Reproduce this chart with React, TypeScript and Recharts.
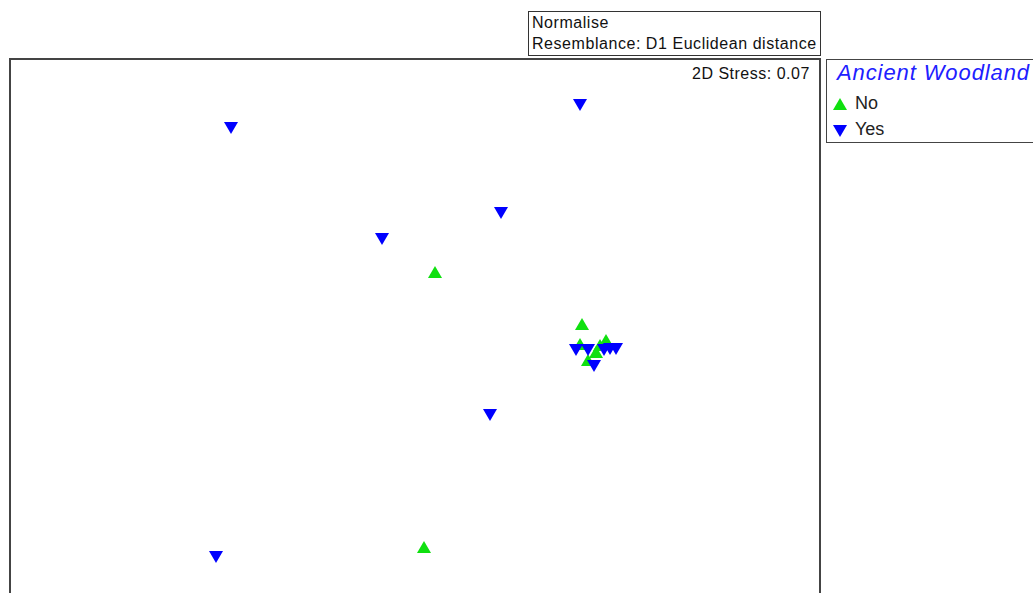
import React from "react";
import { ScatterChart, Scatter, XAxis, YAxis, ReferenceArea, Legend } from "recharts";

// MDS coordinates
const noSites = [
  { x: 0.1, y: 0.29 },
  { x: 0.835, y: 0.03 },
  { x: 0.045, y: -1.085 },
  { x: 0.825, y: -0.07 },
  { x: 0.955, y: -0.05 },
  { x: 0.905, y: -0.11 },
  { x: 0.865, y: -0.15 },
  { x: 0.925, y: -0.075 },
];

const yesSites = [
  { x: -0.92, y: 1.01 },
  { x: 0.825, y: 1.125 },
  { x: 0.43, y: 0.585 },
  { x: -0.165, y: 0.455 },
  { x: 0.375, y: -0.425 },
  { x: -0.995, y: -1.135 },
  { x: 0.805, y: -0.1 },
  { x: 0.865, y: -0.1 },
  { x: 0.975, y: -0.095 },
  { x: 1.005, y: -0.095 },
  { x: 0.895, y: -0.18 },
  { x: 0.945, y: -0.1 },
];

const groups = [
  { name: "No", color: "#10e010", up: true },
  { name: "Yes", color: "#0000ff", up: false },
];

const xDomain = [-2.025, 2.025];
const yDomain = [-1.35, 1.355];

const font = "'Liberation Sans', Arial, sans-serif";

const tri = (up: boolean, color: string) => (props: any) => {
  const { cx, cy } = props;
  const pts = up
    ? `${cx - 7},${cy + 6} ${cx + 7},${cy + 6} ${cx},${cy - 6}`
    : `${cx - 7},${cy - 6} ${cx + 7},${cy - 6} ${cx},${cy + 6}`;
  return <polygon points={pts} fill={color} />;
};

const LegendBox = () => (
  <div
    style={{
      position: "absolute",
      left: 826,
      top: 59,
      width: 220,
      height: 84,
      border: "1.5px solid #444",
      boxSizing: "border-box",
      fontFamily: font,
      background: "#fff",
    }}
  >
    <div style={{ color: "#2020ff", fontStyle: "italic", fontSize: 22, letterSpacing: 0.9, marginLeft: 10, marginTop: 0, whiteSpace: "nowrap" }}>
      Ancient Woodland
    </div>
    <div style={{ marginTop: 4 }}>
      {groups.map((g) => (
        <div key={g.name} style={{ display: "flex", alignItems: "center", height: 26, fontSize: 18, color: "#222" }}>
          <svg width={28} height={20}>
            <polygon
              points={g.up ? "6,17 20,17 13,5" : "6,6 20,6 13,18"}
              fill={g.color}
            />
          </svg>
          {g.name}
        </div>
      ))}
    </div>
  </div>
);

export default function App() {
  return (
    <div style={{ position: "absolute", left: 0, top: 0, width: 1033, height: 620, background: "#fff", overflow: "hidden" }}>
      <div
        style={{
          position: "absolute",
          left: 528,
          top: 11,
          width: 293,
          height: 45,
          border: "1.5px solid #333",
          boxSizing: "border-box",
          fontFamily: font,
          fontSize: 16,
          letterSpacing: 0.55,
          lineHeight: "21px",
          color: "#111",
          paddingLeft: 3,
        }}
      >
        <div>Normalise</div>
        <div style={{ whiteSpace: "nowrap" }}>Resemblance: D1 Euclidean distance</div>
      </div>
      <ScatterChart width={1033} height={620} margin={{ top: 59, right: 213, bottom: 20, left: 10 }}>
        <XAxis type="number" dataKey="x" domain={xDomain} hide allowDataOverflow />
        <YAxis type="number" dataKey="y" domain={yDomain} hide allowDataOverflow />
        <ReferenceArea
          x1={xDomain[0]}
          x2={xDomain[1]}
          y1={yDomain[0]}
          y2={yDomain[1]}
          fill="none"
          stroke="#444"
          strokeWidth={2}
          fillOpacity={0}
        />
        <Scatter name="No" data={noSites} shape={tri(true, groups[0].color)} isAnimationActive={false} />
        <Scatter name="Yes" data={yesSites} shape={tri(false, groups[1].color)} isAnimationActive={false} />
        <Legend content={() => null} />
      </ScatterChart>
      <div
        style={{
          position: "absolute",
          left: 692,
          top: 65,
          fontFamily: font,
          fontSize: 16,
          letterSpacing: 0.5,
          color: "#111",
          whiteSpace: "nowrap",
        }}
      >
        2D Stress: 0.07
      </div>
      <LegendBox />
    </div>
  );
}
